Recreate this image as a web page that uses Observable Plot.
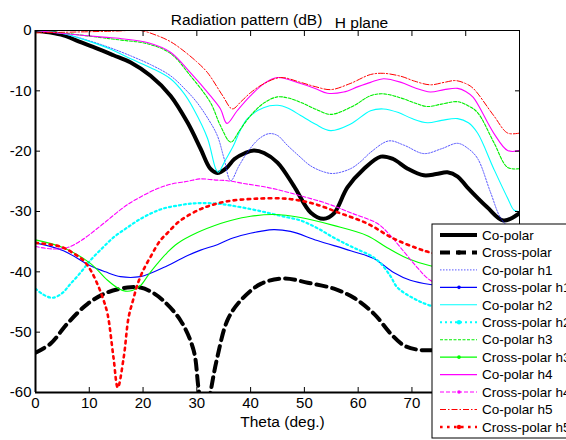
<!DOCTYPE html>
<html>
<head>
<meta charset="utf-8">
<script src="https://cdn.jsdelivr.net/npm/d3@7"></script>
<script src="https://cdn.jsdelivr.net/npm/@observablehq/plot@0.6"></script>
<style>
  html, body { margin: 0; padding: 0; background: #fff; overflow: hidden; }
  #chart { position: relative; width: 566px; height: 440px; overflow: hidden; }
</style>
</head>
<body>
<div id="chart"></div>
<script>
// ---- Data ----
const titleMain = "Radiation pattern (dB)";
const titleSub = "H plane";
const xLabel = "Theta (deg.)";
const xTicks = [0, 10, 20, 30, 40, 50, 60, 70, 80, 90];
const xTickLabels = ["0", "10", "20", "30", "40", "50", "60", "70", "80", "90"];
const yTicks = [0, -10, -20, -30, -40, -50, -60];
const yTickLabels = ["0", "-10", "-20", "-30", "-40", "-50", "-60"];
const seriesNames = ["Co-polar", "Cross-polar", "Co-polar h1", "Cross-polar h1", "Co-polar h2", "Cross-polar h2",
  "Co-polar h3", "Cross-polar h3", "Co-polar h4", "Cross-polar h4", "Co-polar h5", "Cross-polar h5"];

const thetaCo = [0, 2.5, 5.2, 8, 11.5, 14.5, 17.7, 21.4, 25.1, 28.3, 30.7, 32.5, 33.8, 35.5, 37, 39, 40.6, 42.5, 45, 48, 51.2, 53.6, 55.5, 58, 61, 64.2, 66.5, 69.2, 72.2, 74.5, 76.6, 78.5, 80.3, 84, 87, 89.8];
const dbCo = [0, -0.3, -0.8, -1.8, -3, -4.1, -5.3, -7.5, -10.8, -15.3, -19.6, -22.9, -23.6, -22.8, -21.3, -20.3, -19.9, -20.3, -21.9, -25.7, -30.2, -31.2, -30.3, -26, -23, -20.9, -21.3, -22.9, -24, -23.8, -23.5, -24.2, -26, -29.3, -31.5, -30.4];

const thetaX = [0, 2.8, 5.9, 9.7, 13.4, 17.1, 19.5, 21.5, 23.8, 27, 29.4, 30.3, 31.5, 32.6, 33.8, 35.7, 38.1, 41.9, 46.1, 50.6, 55.5, 59.2, 63, 66, 68.5, 71, 75, 80, 85, 90];
const dbX = [-53.4, -51.9, -48.6, -45.3, -43.4, -42.6, -42.6, -43.3, -44.8, -48.1, -53, -59.2, -66, -59.7, -54.2, -48, -44.8, -42, -41.1, -41.8, -42.8, -44.3, -47, -50.2, -52.2, -52.9, -53, -53, -53, -53];

const thetaCo1 = [0, 5, 10, 14, 17.7, 21.5, 25.1, 28, 30, 32, 33.8, 35, 36.3, 37.8, 39.4, 41.5, 43.4, 45, 46.8, 49, 51.1, 53.5, 55.4, 58.6, 60.5, 62.3, 65.7, 68.5, 72.2, 75.5, 78.5, 80.5, 82.2, 84.6, 86.5, 88, 90];
const dbCo1 = [0, -0.5, -1.7, -2.9, -4.2, -5.7, -7.5, -9.9, -11.9, -14.5, -17.4, -21, -24.9, -22.5, -20.2, -18, -17.1, -17.4, -19, -20.8, -22.4, -23.4, -23.7, -22.9, -21.7, -20.2, -18.3, -19, -20.4, -19.6, -18.7, -19.6, -21.2, -26.8, -31.1, -32.5, -33];

const thetaX1 = [0, 5.2, 10.2, 13, 15.8, 19.5, 21.5, 23.8, 28.3, 30.7, 33.8, 36.3, 39, 41.8, 44.3, 47.4, 52.4, 58.6, 62.9, 66.6, 69.7, 73.4, 78, 84, 90];
const dbX1 = [-35.2, -36.5, -39, -40, -40.8, -40.8, -40.2, -39.3, -37.3, -36.4, -35.5, -34.5, -33.8, -33.3, -33, -33.3, -34.8, -36.5, -37.8, -40.1, -41.4, -42.1, -42.5, -43, -43.5];

const thetaCo2 = [0, 5, 10, 14, 17.7, 21.5, 25.1, 27.5, 29.4, 32, 33.5, 34, 35.3, 36.8, 38, 39.4, 42.4, 45, 47, 49.3, 52, 54.9, 58.6, 62.3, 64.7, 67.5, 70, 72.9, 75.5, 78.5, 80.5, 82.2, 85.2, 87.8, 89, 90];
const dbCo2 = [0, -0.5, -1.8, -3.1, -4.7, -6.2, -8, -10.3, -13, -17.9, -22.9, -23.5, -21.5, -19.1, -16.7, -14.6, -12.8, -12.4, -12.9, -14.1, -15.5, -16.6, -15.5, -13.3, -13, -13.6, -14.6, -15.3, -14.9, -14.6, -15.3, -17, -22.9, -27.8, -29.8, -30];

const thetaX2 = [0, 1.5, 3.2, 5, 6.5, 8.5, 10.2, 12.5, 14.5, 17, 19, 21.5, 23.8, 26.5, 28.8, 31, 33.8, 36.3, 40, 43.1, 46, 49.3, 52.5, 55.4, 58, 60.4, 62.5, 64.2, 66, 67.3, 70.3, 73.4, 80, 90];
const dbX2 = [-42.8, -43.8, -44.3, -43.5, -42, -40, -38.1, -36, -34.3, -32.7, -31.5, -30.3, -29.5, -29, -28.7, -28.6, -28.7, -29, -29.6, -30.2, -30.8, -31.5, -32.8, -34.3, -35.5, -36.5, -37.4, -38.6, -40.7, -42.6, -44.4, -45.6, -47, -48];

const thetaCo3 = [0, 5, 11.5, 16, 20.8, 25.1, 28.8, 32.5, 34.4, 36.3, 38, 40, 42.5, 45, 47, 49.3, 52, 54.9, 59.1, 62.3, 64.7, 68, 70.5, 72.9, 75.5, 78.5, 80.5, 82.2, 85.2, 87.8, 90];
const dbCo3 = [0, -0.4, -1.1, -1.6, -2.2, -3.8, -7.5, -11.9, -15.8, -18.5, -16.5, -14.1, -12, -11, -11.2, -11.9, -13, -13.9, -12.5, -10.8, -10.5, -11.2, -12, -12.6, -12.2, -11.8, -12.5, -13.6, -18.5, -22.7, -22.9];

const thetaX3 = [0, 5.2, 10.2, 13.4, 15.5, 16.7, 18, 19.5, 21, 22.7, 24.5, 26.4, 30.1, 34.4, 36.3, 40, 44.3, 49.3, 55.4, 61.7, 65.4, 69.2, 73.4, 80, 90];
const dbX3 = [-34.7, -36, -38.6, -41.4, -42.8, -43.2, -43.1, -42.3, -40.5, -38.6, -36.8, -35.3, -33.5, -32, -31.5, -30.8, -30.5, -31, -32.3, -34, -36, -37.8, -39, -40, -41];

const thetaCo4 = [0, 5.2, 12.6, 16.5, 20.8, 25.1, 28.8, 32.5, 34.4, 35.6, 37.5, 40, 42.5, 45, 49.3, 52, 54.3, 57.3, 60, 62.3, 64.7, 68, 70.5, 73.4, 76, 78.5, 80, 81.4, 85.2, 87.8, 90];
const dbCo4 = [0, -0.5, -1.1, -1.4, -2, -3.6, -7, -10.8, -13, -15.4, -13.3, -10.8, -8.8, -7.8, -8.8, -9.6, -10.4, -10.2, -9.3, -8.6, -8, -8.6, -9.5, -10.2, -9.8, -9.6, -10.1, -11.1, -17, -19.9, -19.9];

const thetaX4 = [0, 3, 5.9, 8.5, 11.8, 14, 16.4, 18.3, 22.7, 25.5, 28.3, 30.5, 33.8, 35.7, 39, 43.1, 46, 49.3, 54.3, 58.6, 63.6, 65.8, 67.9, 71, 73.4, 80, 90];
const dbX4 = [-35.8, -36.2, -36, -34.8, -32.6, -31, -29.3, -28.2, -26.2, -25.4, -25, -24.6, -24.8, -24.9, -25.4, -26, -26.6, -27.4, -28.7, -30.2, -32, -33.8, -36, -39.3, -41.4, -44, -45];

const thetaCo5 = [0, 5, 10, 15, 19.5, 22.5, 25, 27, 30, 32, 34.8, 36.6, 38.2, 40, 42.5, 45.6, 49.3, 52, 54.9, 58.5, 62.3, 64.7, 68, 70.5, 73.4, 76, 78.1, 80, 81.4, 85.2, 87.8, 90];
const dbCo5 = [-0.4, -0.3, -0.2, -0.1, 0, -0.8, -1.8, -3, -5.2, -7, -10.8, -13, -11.8, -10.3, -8.8, -7.8, -8.6, -9.3, -9.8, -8.8, -7.3, -7.1, -7.6, -8.4, -9, -8.6, -8.3, -8.8, -9.6, -14.1, -17, -17];

const thetaX5 = [0, 3, 5.2, 7, 8.9, 10.3, 11.5, 12.5, 13.4, 14.5, 15.3, 16.4, 17.3, 18.2, 19, 20, 21.4, 23.2, 24.5, 26.5, 28.3, 30.7, 32.5, 35.7, 40.5, 46.9, 51.7, 56.7, 61.7, 66.6, 71, 73.4, 80, 90];
const dbX5 = [-35.2, -35.5, -36, -36.9, -38.1, -39.8, -42, -44.3, -47, -54.2, -59.2, -54.2, -47.6, -44.5, -42, -39.8, -37.5, -34.8, -33.6, -31.8, -30.7, -29.6, -29, -28.3, -27.9, -27.9, -28.7, -30.3, -32, -34.5, -36.1, -36.8, -38, -39];

// ---- Series table (styles) ----
const seriesData = [
  [thetaCo, dbCo], [thetaX, dbX], [thetaCo1, dbCo1], [thetaX1, dbX1], [thetaCo2, dbCo2], [thetaX2, dbX2],
  [thetaCo3, dbCo3], [thetaX3, dbX3], [thetaCo4, dbCo4], [thetaX4, dbX4], [thetaCo5, dbCo5], [thetaX5, dbX5]
];
const styles = [
  {stroke: "#000000", width: 4, dash: null, marker: false},
  {stroke: "#000000", width: 4, dash: "10,6", marker: true},
  {stroke: "#2222ff", width: 1, dash: "1.5,1.5", marker: false, opacity: 0.75},
  {stroke: "#0000ff", width: 1.1, dash: null, marker: true},
  {stroke: "#00ffff", width: 1.1, dash: null, marker: false},
  {stroke: "#00ffff", width: 2.2, dash: "2,3", marker: true},
  {stroke: "#00ee00", width: 1.1, dash: "3,1.5", marker: false},
  {stroke: "#00ff00", width: 1.1, dash: null, marker: true},
  {stroke: "#ff00ff", width: 1.1, dash: null, marker: false},
  {stroke: "#ff00ff", width: 1.1, dash: "4,2", marker: true},
  {stroke: "#ff0000", width: 1, dash: "6,2,1.5,2", marker: false},
  {stroke: "#ff0000", width: 2.6, dash: "2.6,4.4", marker: true}
];
const series = seriesNames.map((name, i) => ({
  name, ...styles[i],
  rows: seriesData[i][0].map((t, j) => ({theta: t, db: seriesData[i][1][j]}))
}));

const fontFam = "'Liberation Sans', Arial, Helvetica, sans-serif";

const plot = Plot.plot({
  width: 566,
  height: 440,
  marginLeft: 35,
  marginRight: 47,
  marginTop: 30,
  marginBottom: 48,
  style: {fontFamily: fontFam, fontSize: "15px", color: "#000", background: "#fff"},
  x: {domain: [0, 90], label: null},
  y: {domain: [-60, 0], label: null},
  marks: [
    ...series.map(s => Plot.line(s.rows, {
      x: "theta", y: "db", stroke: s.stroke, strokeWidth: s.width,
      strokeDasharray: s.dash, strokeOpacity: s.opacity ?? 1,
      curve: "catmull-rom", clip: true
    })),
    Plot.frame({stroke: "#000", strokeWidth: 1}),
    Plot.ruleX([0], {stroke: "#000", strokeWidth: 2}),
    Plot.ruleY([-60], {stroke: "#000", strokeWidth: 2}),
    // inward ticks
    Plot.axisX({anchor: "bottom", ticks: xTicks, tickSize: -5, tickFormat: () => "", label: null}),
    Plot.axisX({anchor: "top", ticks: xTicks, tickSize: -5, tickFormat: () => "", label: null}),
    Plot.axisY({anchor: "left", ticks: yTicks, tickSize: -5, tickFormat: () => "", label: null}),
    Plot.axisY({anchor: "right", ticks: yTicks, tickSize: -5, tickFormat: () => "", label: null}),
    // labels
    Plot.axisX({anchor: "bottom", ticks: xTicks, tickSize: 0, tickPadding: 5, label: null,
      tickFormat: d => xTickLabels[xTicks.indexOf(d)], fontSize: 15}),
    Plot.axisY({anchor: "left", ticks: yTicks, tickSize: 0, tickPadding: 4, label: null,
      tickFormat: d => yTickLabels[yTicks.indexOf(d)], fontSize: 15}),
    Plot.text([xLabel], {frameAnchor: "bottom", dy: 34, fontSize: 15.5, dx: 5}),
    Plot.text([titleMain], {frameAnchor: "top", dx: -31, dy: -17, fontSize: 15.5}),
    Plot.text([titleSub], {frameAnchor: "top", dx: 84, dy: -14, fontSize: 15.5})
  ]
});

document.getElementById("chart").appendChild(plot);

// ---- Legend (overlay, partly clipped by the window like the reference) ----
const svg = d3.select(plot);
const lg = svg.append("g").attr("font-family", fontFam).attr("font-size", 13.5).attr("text-anchor", "start");
const lx = 432, ly = 224, rowH = 17.45;
lg.append("rect").attr("x", lx).attr("y", ly).attr("width", 220).attr("height", 214)
  .attr("fill", "#fff").attr("stroke", "#000").attr("stroke-width", 1);
series.forEach((s, i) => {
  const cy = ly + 11 + i * rowH;
  lg.append("line").attr("x1", lx + 8).attr("x2", lx + 45).attr("y1", cy).attr("y2", cy)
    .attr("stroke", s.stroke).attr("stroke-width", s.width)
    .attr("stroke-dasharray", s.dash).attr("stroke-opacity", s.opacity ?? 1);
  if (s.marker) {
    lg.append("circle").attr("cx", lx + 27).attr("cy", cy).attr("r", s.width > 2 ? 2.2 : 1.8).attr("fill", s.stroke);
  }
  lg.append("text").attr("x", lx + 50).attr("y", cy).attr("dy", "0.35em")
    .attr("text-anchor", "start").attr("fill", "#000").text(s.name);
});
</script>
</body>
</html>
